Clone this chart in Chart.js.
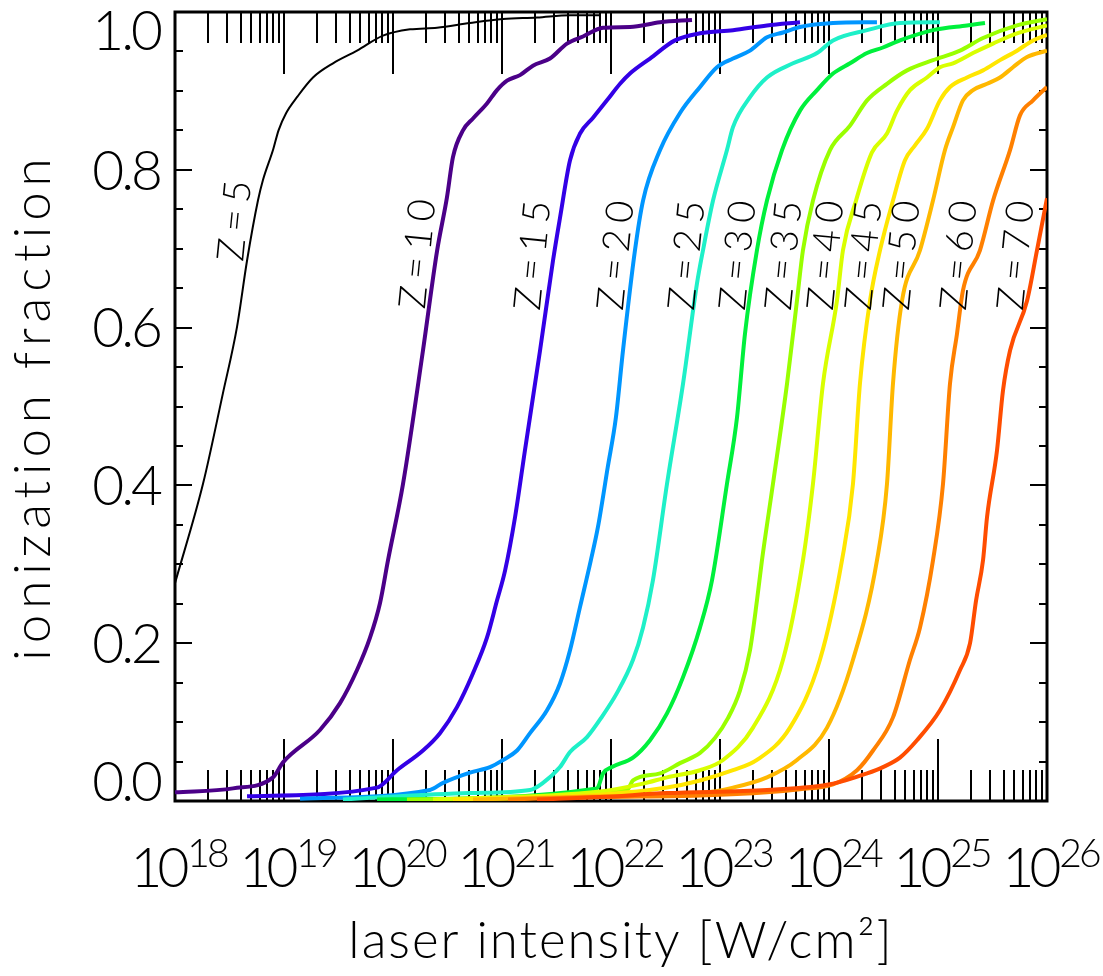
<!DOCTYPE html>
<html>
<head>
<meta charset="utf-8">
<script src="https://cdn.jsdelivr.net/npm/chart.js@4.4.1/dist/chart.umd.min.js"></script>
<style>
  html, body { margin: 0; padding: 0; background: #fff; }
  #wrap { width: 1103px; height: 976px; }
</style>
</head>
<body>
<div id="wrap"><canvas id="chart" width="1103" height="976"></canvas></div>
<script>
// nuclear charge of each curve
const charges = [5, 10, 15, 20, 25, 30, 35, 40, 45, 50, 60, 70];
const lineColors = ['#000000', '#4b0088', '#3300e6', '#0096ff', '#1ef0c8', '#00f03c',
                    '#99ff00', '#d9ff00', '#ffe600', '#ffb800', '#ff8000', '#ff4d00'];

// log10 of laser intensity [W/cm^2] and ionization fraction, per charge
const lgI_5  = [18.000, 18.257, 18.440, 18.569, 18.661, 18.761, 18.807, 18.899, 18.950, 19.020, 19.119, 19.266, 19.450, 19.670, 19.908, 20.156, 20.404, 20.706, 21.009, 21.321, 21.624, 21.899];
const frac_5 = [0.276, 0.402, 0.517, 0.601, 0.685, 0.761, 0.787, 0.825, 0.850, 0.872, 0.892, 0.917, 0.935, 0.951, 0.970, 0.978, 0.980, 0.986, 0.991, 0.993, 0.996, 0.996];

const lgI_10  = [18.000, 18.532, 18.899, 18.991, 19.330, 19.514, 19.670, 19.789, 19.881, 19.954, 20.092, 20.275, 20.404, 20.495, 20.550, 20.642, 20.734, 20.862, 20.954, 21.046, 21.165, 21.284, 21.440, 21.596, 21.743, 21.927, 22.174, 22.450, 22.743];
const frac_10 = [0.011, 0.016, 0.030, 0.049, 0.090, 0.124, 0.166, 0.207, 0.251, 0.305, 0.402, 0.571, 0.697, 0.765, 0.816, 0.850, 0.865, 0.884, 0.901, 0.913, 0.920, 0.932, 0.941, 0.960, 0.969, 0.980, 0.981, 0.987, 0.990];

const lgI_15  = [18.661, 19.853, 20.037, 20.275, 20.431, 20.587, 20.734, 20.862, 20.954, 21.028, 21.120, 21.210, 21.349, 21.468, 21.532, 21.624, 21.716, 21.835, 21.963, 22.083, 22.174, 22.358, 22.587, 22.817, 23.119, 23.431, 23.734];
const frac_15 = [0.006, 0.017, 0.039, 0.064, 0.086, 0.119, 0.162, 0.207, 0.254, 0.292, 0.360, 0.444, 0.571, 0.685, 0.739, 0.812, 0.846, 0.866, 0.888, 0.909, 0.922, 0.941, 0.964, 0.973, 0.977, 0.983, 0.987];

const lgI_20  = [19.147, 20.339, 20.459, 20.706, 20.890, 21.009, 21.138, 21.257, 21.413, 21.532, 21.624, 21.716, 21.815, 21.880, 21.970, 22.045, 22.110, 22.220, 22.294, 22.450, 22.633, 22.817, 22.972, 23.119, 23.275, 23.431, 23.578, 23.734, 24.037, 24.440];
const frac_20 = [0.003, 0.014, 0.023, 0.036, 0.043, 0.052, 0.064, 0.086, 0.115, 0.149, 0.191, 0.246, 0.305, 0.347, 0.423, 0.486, 0.571, 0.698, 0.761, 0.825, 0.872, 0.905, 0.930, 0.941, 0.951, 0.968, 0.974, 0.981, 0.986, 0.987];

const lgI_25  = [19.541, 20.706, 21.257, 21.376, 21.532, 21.624, 21.780, 21.908, 22.055, 22.202, 22.294, 22.385, 22.514, 22.661, 22.789, 22.844, 22.936, 23.064, 23.119, 23.275, 23.431, 23.670, 23.890, 24.037, 24.349, 24.651, 25.018];
const frac_25 = [0.002, 0.010, 0.014, 0.023, 0.043, 0.062, 0.081, 0.105, 0.137, 0.179, 0.220, 0.280, 0.402, 0.529, 0.656, 0.698, 0.761, 0.825, 0.854, 0.892, 0.917, 0.935, 0.948, 0.964, 0.977, 0.986, 0.987];

const lgI_30  = [19.853, 21.872, 21.927, 22.009, 22.202, 22.358, 22.514, 22.661, 22.817, 22.927, 23.064, 23.156, 23.229, 23.339, 23.431, 23.569, 23.734, 23.890, 24.037, 24.193, 24.349, 24.495, 24.651, 24.954, 25.266, 25.431];
const frac_30 = [0.002, 0.016, 0.035, 0.043, 0.055, 0.077, 0.111, 0.157, 0.220, 0.280, 0.402, 0.486, 0.592, 0.698, 0.761, 0.825, 0.875, 0.901, 0.922, 0.935, 0.948, 0.955, 0.964, 0.977, 0.983, 0.986];

const lgI_35  = [20.128, 22.147, 22.202, 22.450, 22.633, 22.817, 22.954, 23.073, 23.183, 23.275, 23.339, 23.385, 23.486, 23.615, 23.706, 23.761, 23.853, 24.009, 24.193, 24.349, 24.532, 24.716, 24.954, 25.202, 25.413, 25.725, 26.000];
const frac_35 = [0.002, 0.014, 0.026, 0.035, 0.048, 0.061, 0.080, 0.105, 0.140, 0.191, 0.254, 0.305, 0.402, 0.529, 0.634, 0.698, 0.761, 0.825, 0.856, 0.888, 0.909, 0.926, 0.939, 0.951, 0.967, 0.983, 0.991];

const lgI_40  = [20.367, 21.899, 22.294, 22.514, 22.817, 23.028, 23.303, 23.578, 23.761, 23.853, 23.945, 24.073, 24.128, 24.248, 24.394, 24.532, 24.624, 24.743, 24.899, 25.018, 25.138, 25.321, 25.505, 25.725, 26.000];
const frac_40 = [0.002, 0.012, 0.022, 0.030, 0.039, 0.052, 0.093, 0.179, 0.305, 0.402, 0.529, 0.634, 0.698, 0.761, 0.822, 0.846, 0.875, 0.901, 0.917, 0.930, 0.935, 0.948, 0.960, 0.973, 0.983];

const lgI_45  = [20.550, 21.899, 22.514, 22.817, 23.119, 23.339, 23.642, 23.917, 24.119, 24.220, 24.284, 24.376, 24.468, 24.587, 24.697, 24.789, 24.899, 25.018, 25.110, 25.266, 25.413, 25.569, 25.725, 25.872, 26.000];
const frac_45 = [0.002, 0.008, 0.017, 0.026, 0.039, 0.052, 0.093, 0.179, 0.305, 0.402, 0.529, 0.634, 0.698, 0.761, 0.812, 0.831, 0.852, 0.888, 0.905, 0.917, 0.926, 0.939, 0.951, 0.964, 0.971];

const lgI_50  = [20.734, 21.899, 22.817, 23.119, 23.431, 23.706, 23.982, 24.220, 24.440, 24.532, 24.587, 24.670, 24.835, 24.954, 25.064, 25.138, 25.229, 25.321, 25.450, 25.569, 25.688, 25.817, 26.000];
const frac_50 = [0.002, 0.006, 0.010, 0.017, 0.030, 0.052, 0.093, 0.179, 0.305, 0.402, 0.529, 0.634, 0.698, 0.761, 0.825, 0.854, 0.888, 0.901, 0.909, 0.917, 0.930, 0.943, 0.951];

const lgI_60  = [21.055, 21.899, 22.817, 23.431, 23.734, 24.037, 24.257, 24.404, 24.587, 24.743, 24.835, 24.954, 25.046, 25.110, 25.174, 25.229, 25.385, 25.505, 25.661, 25.752, 25.872, 26.000];
const frac_60 = [0.002, 0.005, 0.007, 0.011, 0.015, 0.021, 0.039, 0.064, 0.106, 0.179, 0.220, 0.305, 0.402, 0.529, 0.592, 0.647, 0.698, 0.761, 0.825, 0.869, 0.888, 0.905];

const lgI_70  = [21.321, 21.899, 22.514, 23.431, 24.037, 24.349, 24.495, 24.651, 24.807, 25.018, 25.202, 25.294, 25.349, 25.413, 25.450, 25.541, 25.596, 25.661, 25.817, 25.908, 26.000];
const frac_70 = [0.002, 0.005, 0.010, 0.014, 0.022, 0.035, 0.043, 0.055, 0.077, 0.115, 0.166, 0.200, 0.254, 0.305, 0.360, 0.444, 0.520, 0.571, 0.634, 0.698, 0.764];

// where each "Z=.." label sits: log10 intensity and fraction of its centre
const labelLgI  = [18.550, 20.229, 21.284, 22.046, 22.697, 23.165, 23.587, 23.972, 24.321, 24.670, 25.193, 25.716];
const labelFrac = [0.736, 0.694, 0.692, 0.692, 0.692, 0.692, 0.692, 0.692, 0.692, 0.692, 0.692, 0.692];

// axis ticks
const xTickExponents = [18, 19, 20, 21, 22, 23, 24, 25, 26];
const yTickValues = [0, 0.2, 0.4, 0.6, 0.8, 1.0];
const yTickLabels = ['0.0', '0.2', '0.4', '0.6', '0.8', '1.0'];

const curves = [
  [lgI_5, frac_5], [lgI_10, frac_10], [lgI_15, frac_15], [lgI_20, frac_20],
  [lgI_25, frac_25], [lgI_30, frac_30], [lgI_35, frac_35], [lgI_40, frac_40],
  [lgI_45, frac_45], [lgI_50, frac_50], [lgI_60, frac_60], [lgI_70, frac_70]
];

const FONT = 'Lato, "Liberation Sans", sans-serif';
const font = px => '300 ' + px + 'px ' + FONT;

const datasets = curves.map(([lg, fr], i) => ({
  label: 'Z=' + charges[i],
  data: lg.map((e, k) => ({ x: Math.pow(10, e), y: fr[k] })),
  borderColor: lineColors[i],
  borderWidth: i === 0 ? 2 : 4,
  pointRadius: 0,
  cubicInterpolationMode: 'monotone',
  fill: false,
  order: curves.length - i   // higher charges drawn on top
}));

// frame, inward ticks and all the text around the plot
const axesPlugin = {
  id: 'idlAxes',
  beforeDatasetsDraw(chart) {
    const { ctx, chartArea: a, scales: { x, y } } = chart;
    ctx.save();
    ctx.strokeStyle = '#000';
    ctx.lineWidth = 2;
    ctx.beginPath();
    xTickExponents.forEach(e => {
      const steps = e === 26 ? [1] : [1, 2, 3, 4, 5, 6, 7, 8, 9];
      steps.forEach(m => {
        const px = Math.round(x.getPixelForValue(m * Math.pow(10, e)));
        const len = m === 1 ? 62 : 31;
        ctx.moveTo(px, a.bottom); ctx.lineTo(px, a.bottom - len);
        ctx.moveTo(px, a.top);    ctx.lineTo(px, a.top + len);
      });
    });
    for (let k = 0; k <= 20; k++) {
      const py = Math.round(y.getPixelForValue(k * 0.05));
      const len = k % 4 === 0 ? 17 : 8;
      ctx.moveTo(a.left, py);  ctx.lineTo(a.left + len, py);
      ctx.moveTo(a.right, py); ctx.lineTo(a.right - len, py);
    }
    ctx.stroke();
    ctx.lineWidth = 3;
    ctx.strokeRect(a.left, a.top, a.right - a.left, a.bottom - a.top);
    ctx.restore();
  },
  afterDatasetsDraw(chart) {
    const { ctx, chartArea: a, scales: { x, y } } = chart;
    ctx.save();
    ctx.fillStyle = '#000';

    // y tick labels, kept inside the frame height
    ctx.font = font(55);
    ctx.letterSpacing = '-3px';
    ctx.textAlign = 'right';
    ctx.textBaseline = 'middle';
    const h = 40;
    yTickValues.forEach((v, i) => {
      let py = y.getPixelForValue(v) + 2;
      py = Math.max(a.top + h / 2, Math.min(a.bottom + 2 - h / 2, py));
      ctx.fillText(yTickLabels[i], a.left - 15, py);
    });

    // x tick labels: 10 with a raised exponent
    ctx.textAlign = 'left';
    ctx.textBaseline = 'alphabetic';
    xTickExponents.forEach(e => {
      const px = x.getPixelForValue(Math.pow(10, e));
      ctx.font = font(55);
      ctx.letterSpacing = '-5px';
      const wb = ctx.measureText('10').width;
      ctx.font = font(39);
      ctx.letterSpacing = '-3px';
      const we = ctx.measureText(String(e)).width;
      const x0 = px - (wb + we) / 2 + 2;
      ctx.font = font(55);
      ctx.letterSpacing = '-5px';
      ctx.fillText('10', x0, 887);
      ctx.font = font(39);
      ctx.letterSpacing = '-3px';
      ctx.fillText(String(e), x0 + wb + 3, 867);
    });

    // axis titles
    ctx.font = font(51);
    ctx.letterSpacing = '2px';
    ctx.textAlign = 'center';
    ctx.fillText('laser intensity [W/cm²]', (a.left + a.right) / 2 + 10, 958);

    ctx.save();
    ctx.letterSpacing = '6px';
    ctx.translate(50, (a.top + a.bottom) / 2);
    ctx.rotate(-Math.PI / 2);
    ctx.fillText('ionization fraction', 0, 0);
    ctx.restore();

    // curve labels, running up along each curve
    ctx.font = font(38);
    ctx.letterSpacing = '7px';
    ctx.textAlign = 'center';
    ctx.textBaseline = 'middle';
    charges.forEach((z, i) => {
      const px = x.getPixelForValue(Math.pow(10, labelLgI[i]));
      const py = y.getPixelForValue(labelFrac[i]);
      ctx.save();
      ctx.translate(px, py);
      ctx.rotate(-84.3 * Math.PI / 180);
      ctx.fillText('Z=' + z, 3, 0);
      ctx.restore();
    });
    ctx.restore();
  }
};

new Chart(document.getElementById('chart').getContext('2d'), {
  type: 'line',
  data: { datasets },
  options: {
    responsive: false,
    animation: false,
    devicePixelRatio: 1,
    layout: { padding: { left: 175, top: 12, right: 56, bottom: 175 } },
    plugins: { legend: { display: false }, tooltip: { enabled: false } },
    scales: {
      x: { type: 'logarithmic', min: 1e18, max: 1e26, display: false },
      y: { type: 'linear', min: 0, max: 1, display: false }
    }
  },
  plugins: [axesPlugin]
});
</script>
</body>
</html>
